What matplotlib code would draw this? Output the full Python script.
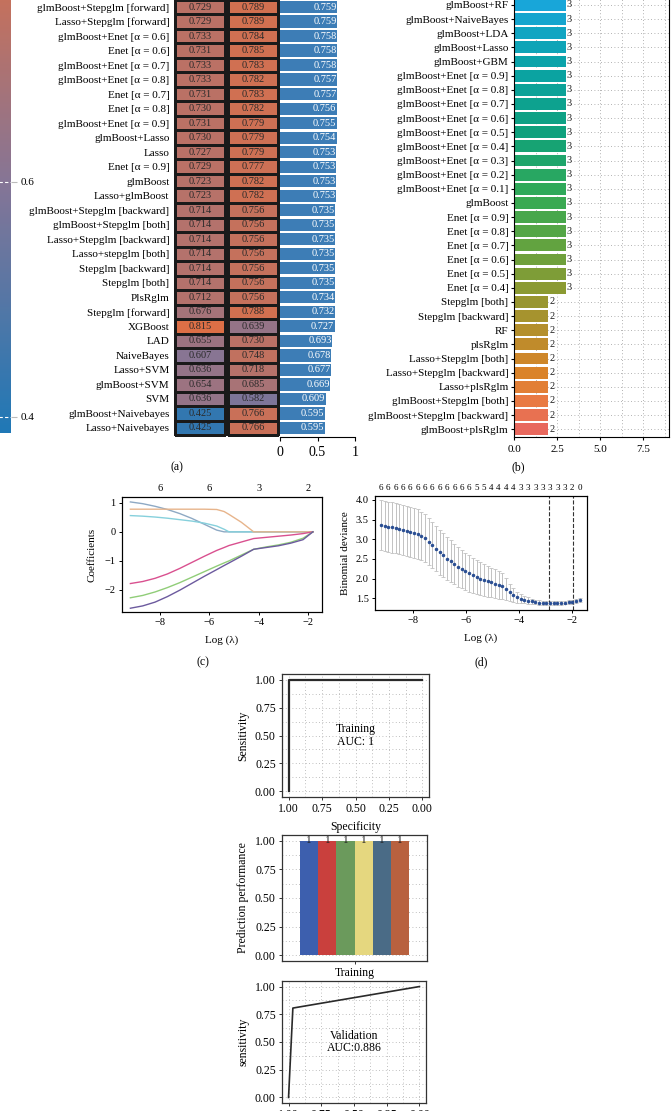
import numpy as np
import matplotlib
matplotlib.use('Agg')
import matplotlib.pyplot as plt
from matplotlib.colors import LinearSegmentedColormap, Normalize
from matplotlib.cm import ScalarMappable
from matplotlib.ticker import MultipleLocator

plt.rcParams['font.family'] = ['Liberation Serif', 'DejaVu Serif']
plt.rcParams['axes.linewidth'] = 0.8

W, H = 671, 1111

# (a) C-index of model combinations: training, validation, mean
a_models = ['glmBoost+Stepglm [forward]', 'Lasso+Stepglm [forward]', 'glmBoost+Enet [α = 0.6]',
            'Enet [α = 0.6]', 'glmBoost+Enet [α = 0.7]', 'glmBoost+Enet [α = 0.8]', 'Enet [α = 0.7]',
            'Enet [α = 0.8]', 'glmBoost+Enet [α = 0.9]', 'glmBoost+Lasso', 'Lasso', 'Enet [α = 0.9]',
            'glmBoost', 'Lasso+glmBoost', 'glmBoost+Stepglm [backward]', 'glmBoost+Stepglm [both]',
            'Lasso+Stepglm [backward]', 'Lasso+stepglm [both]', 'Stepglm [backward]', 'Stepglm [both]',
            'PlsRglm', 'Stepglm [forward]', 'XGBoost', 'LAD', 'NaiveBayes', 'Lasso+SVM', 'glmBoost+SVM',
            'SVM', 'glmBoost+Naivebayes', 'Lasso+Naivebayes']
a_train = [0.729, 0.729, 0.733, 0.731, 0.733, 0.733, 0.731, 0.730, 0.731, 0.730, 0.727, 0.729,
           0.723, 0.723, 0.714, 0.714, 0.714, 0.714, 0.714, 0.714, 0.712, 0.676, 0.815, 0.655,
           0.607, 0.636, 0.654, 0.636, 0.425, 0.425]
a_valid = [0.789, 0.789, 0.784, 0.785, 0.783, 0.782, 0.783, 0.782, 0.779, 0.779, 0.779, 0.777,
           0.782, 0.782, 0.756, 0.756, 0.756, 0.756, 0.756, 0.756, 0.756, 0.788, 0.639, 0.730,
           0.748, 0.718, 0.685, 0.582, 0.766, 0.766]
a_mean = [0.759, 0.759, 0.758, 0.758, 0.758, 0.757, 0.757, 0.756, 0.755, 0.754, 0.753, 0.753,
          0.753, 0.753, 0.735, 0.735, 0.735, 0.735, 0.735, 0.735, 0.734, 0.732, 0.727, 0.693,
          0.678, 0.677, 0.669, 0.609, 0.595, 0.595]

# (b) number of genes kept per model
b_models = ['glmBoost+RF', 'glmBoost+NaiveBayes', 'glmBoost+LDA', 'glmBoost+Lasso', 'glmBoost+GBM',
            'glmBoost+Enet [α = 0.9]', 'glmBoost+Enet [α = 0.8]', 'glmBoost+Enet [α = 0.7]',
            'glmBoost+Enet [α = 0.6]', 'glmBoost+Enet [α = 0.5]', 'glmBoost+Enet [α = 0.4]',
            'glmBoost+Enet [α = 0.3]', 'glmBoost+Enet [α = 0.2]', 'glmBoost+Enet [α = 0.1]',
            'glmBoost', 'Enet [α = 0.9]', 'Enet [α = 0.8]', 'Enet [α = 0.7]', 'Enet [α = 0.6]',
            'Enet [α = 0.5]', 'Enet [α = 0.4]', 'Stepglm [both]', 'Stepglm [backward]', 'RF',
            'plsRglm', 'Lasso+Stepglm [both]', 'Lasso+Stepglm [backward]', 'Lasso+plsRglm',
            'glmBoost+Stepglm [both]', 'glmBoost+Stepglm [backward]', 'glmBoost+plsRglm']
b_counts = [3, 3, 3, 3, 3, 3, 3, 3, 3, 3, 3, 3, 3, 3, 3, 3, 3, 3, 3, 3, 3,
            2, 2, 2, 2, 2, 2, 2, 2, 2, 2]

# (c) lasso coefficient paths
c_loglam = [-9.2, -8.7, -8.2, -7.7, -7.2, -6.7, -6.2, -5.7, -5.4, -5.2, -4.7, -4.2, -3.7, -3.2, -2.7, -2.2, -1.8]
c_coef1 = [1.03, 0.97, 0.88, 0.77, 0.63, 0.46, 0.26, 0.06, 0, 0, 0, 0, 0, 0, 0, 0, 0]
c_coef2 = [0.56, 0.54, 0.51, 0.47, 0.42, 0.37, 0.30, 0.20, 0.09, 0, 0, 0, 0, 0, 0, 0, 0]
c_coef3 = [0.78, 0.78, 0.78, 0.78, 0.78, 0.78, 0.78, 0.77, 0.70, 0.60, 0.33, 0, 0, 0, 0, 0, 0]
c_coef4 = [-1.78, -1.71, -1.60, -1.45, -1.26, -1.05, -0.84, -0.64, -0.54, -0.47, -0.35, -0.23, -0.19, -0.15, -0.11, -0.06, 0]
c_coef5 = [-2.27, -2.19, -2.07, -1.92, -1.75, -1.56, -1.37, -1.18, -1.07, -1.00, -0.80, -0.60, -0.52, -0.45, -0.36, -0.22, 0]
c_coef6 = [-2.63, -2.55, -2.42, -2.23, -2.01, -1.77, -1.53, -1.30, -1.16, -1.07, -0.84, -0.60, -0.54, -0.48, -0.39, -0.27, 0]
c_top_ticks = [-8, -6, -4, -2]
c_top_df = ['6', '6', '3', '2']

# (d) cross-validation binomial deviance
d_mean = [3.36, 3.34, 3.32, 3.30, 3.28, 3.26, 3.24, 3.21, 3.19, 3.16, 3.13, 3.08, 3.02, 2.94,
          2.85, 2.76, 2.67, 2.59, 2.51, 2.44, 2.37, 2.30, 2.24, 2.18, 2.13, 2.08, 2.03, 1.99,
          1.96, 1.93, 1.90, 1.87, 1.84, 1.81, 1.73, 1.65, 1.58, 1.53, 1.49, 1.46, 1.44, 1.42,
          1.40, 1.39, 1.38, 1.38, 1.37, 1.37, 1.38, 1.38, 1.39, 1.40, 1.41, 1.43, 1.45]
d_se = [0.64, 0.64, 0.64, 0.64, 0.63, 0.63, 0.63, 0.63, 0.63, 0.63, 0.63, 0.62, 0.61, 0.60,
        0.59, 0.58, 0.57, 0.56, 0.55, 0.53, 0.52, 0.51, 0.49, 0.48, 0.46, 0.45, 0.43, 0.42,
        0.40, 0.39, 0.38, 0.37, 0.36, 0.33, 0.28, 0.22, 0.17, 0.14, 0.11, 0.09, 0.08, 0.07,
        0.06, 0.06, 0.05, 0.05, 0.05, 0.05, 0.05, 0.05, 0.05, 0.05, 0.05, 0.05, 0.05]
d_loglam = np.linspace(-9.2, -1.7, len(d_mean))
d_df = ['6'] * 13 + ['5'] * 2 + ['4'] * 4 + ['3'] * 7 + ['2', '0']
d_lam_min = -2.87
d_lam_1se = -1.94

# bottom: ROC curves and prediction performance
roc_train_spec = [1, 1, 0]
roc_train_sens = [0, 1, 1]
perf_values = [1, 1, 1, 1, 1, 1]
perf_colors = ['#3d5fae', '#c9403d', '#6b9a5c', '#e5d77f', '#4a6b86', '#b8613f']
roc_valid_spec = [1, 0.967, 0]
roc_valid_sens = [0, 0.806, 1]


def px_axes(fig, x0, y0, x1, y1):
    return fig.add_axes([x0 / W, 1 - y1 / H, (x1 - x0) / W, (y1 - y0) / H])


fig = plt.figure(figsize=(W / 100, H / 100), dpi=100)

# ---------- (a) ----------
heat_cmap = LinearSegmentedColormap.from_list(
    'heat', [(0.0, '#1f78b6'), (0.49, '#857596'), (1.0, '#de6f45')])
heat_norm = Normalize(vmin=0.386, vmax=0.82)
n_a = len(a_models)


def heat_column(ax, values):
    ax.pcolormesh(np.array(values).reshape(-1, 1), cmap=heat_cmap, norm=heat_norm,
                  edgecolors='#1a1a1a', linewidth=0.8, clip_on=False)
    for i, v in enumerate(values):
        ax.text(0.5, i + 0.5, f'{v:.3f}', ha='center', va='center', fontsize=7.5, color='#2a2a2a')
    ax.set_xlim(0, 1)
    ax.set_ylim(len(values), 0)
    ax.set_xticks([])
    for s in ax.spines.values():
        s.set_visible(False)


top_a, bot_a = -0.25, 435.25
ax_h1 = px_axes(fig, 175, top_a, 225, bot_a)
heat_column(ax_h1, a_train)
ax_h1.set_yticks(np.arange(n_a) + 0.5)
ax_h1.set_yticklabels(a_models, fontsize=8)
ax_h1.tick_params(axis='y', length=0, pad=4)

ax_h2 = px_axes(fig, 228, top_a, 278, bot_a)
heat_column(ax_h2, a_valid)
ax_h2.set_yticks([])

ax_m = px_axes(fig, 280, top_a, 355, bot_a)
ax_m.barh(np.arange(n_a) + 0.5, a_mean, height=0.84, color='#3d7db6')
for i, v in enumerate(a_mean):
    ax_m.text(v - 0.005, i + 0.5, f'{v:.3f}', ha='right', va='center', fontsize=7.5, color='white')
ax_m.set_xlim(0, 1)
ax_m.set_ylim(n_a, 0)
ax_m.set_yticks([])
ax_m.set_xticks([0, 0.5, 1])
ax_m.set_xticklabels(['0', '0.5', '1'], fontsize=7.5)
ax_m.tick_params(axis='x', length=3, width=0.8, pad=3)
for s in ['top', 'right', 'left']:
    ax_m.spines[s].set_visible(False)
ax_m.spines['bottom'].set_position(('outward', 1.5))

cax = px_axes(fig, -5, -77, 10.5, 433)
cb = fig.colorbar(ScalarMappable(norm=heat_norm, cmap=heat_cmap), cax=cax)
cb.outline.set_visible(False)
cb.set_ticks([0.4, 0.6])
cb.set_ticklabels(['0.4', '0.6'])
cax.tick_params(length=4, width=0.8, color='#bbbbbb', labelsize=8, pad=3)
for v in [0.4, 0.6]:
    cax.axhline(v, color='white', ls=(0, (3, 2)), lw=0.8)

fig.text(177 / W, 1 - 467 / H, '(a)', ha='center', va='center', fontsize=8.5)

# ---------- (b) ----------
n_b = len(b_models)
bar_cmap = LinearSegmentedColormap.from_list(
    'genes', [(0.0, '#18a6d9'), (0.14, '#0aa3a8'), (0.3, '#0fa17c'), (0.45, '#34aa55'),
              (0.55, '#5aa543'), (0.67, '#8c9a32'), (0.77, '#b58f2c'), (0.87, '#db8329'),
              (0.93, '#e97b42'), (1.0, '#e8685d')])
b_colors = [bar_cmap(i / (n_b - 1)) for i in range(n_b)]

ax_b = px_axes(fig, 514, -10, 669, 437)
ax_b.set_axisbelow(True)
ax_b.barh(np.arange(n_b), b_counts, height=0.84, color=b_colors)
for i, v in enumerate(b_counts):
    ax_b.text(v + 0.05, i, str(v), ha='left', va='center', fontsize=7.5, color='#222222')
ax_b.set_xlim(0, 9)
ax_b.set_ylim(n_b - 0.45, -1.06)
ax_b.set_yticks(np.arange(n_b))
ax_b.set_yticklabels(b_models, fontsize=8)
ax_b.set_xticks([0, 2.5, 5, 7.5])
ax_b.set_xticklabels(['0.0', '2.5', '5.0', '7.5'], fontsize=8)
ax_b.xaxis.set_minor_locator(MultipleLocator(1.25))
ax_b.tick_params(axis='y', length=2, pad=2)
ax_b.tick_params(axis='x', which='major', length=2.5, pad=3)
ax_b.tick_params(axis='x', which='minor', length=0)
ax_b.grid(which='both', ls=(0, (1, 3)), color='#999999', lw=0.6)
fig.text(518 / W, 1 - 467 / H, '(b)', ha='center', va='center', fontsize=8.5)

# ---------- (c) ----------
ax_c = px_axes(fig, 122, 497, 322, 612)
c_colors = ['#8ea9c4', '#86d0dc', '#e7b48b', '#d9508f', '#90cd78', '#6c5a9e']
for coef, col in zip([c_coef1, c_coef2, c_coef3, c_coef4, c_coef5, c_coef6], c_colors):
    ax_c.plot(c_loglam, coef, color=col, lw=1.0)
ax_c.set_xlim(-9.54, -1.43)
ax_c.set_ylim(-2.76, 1.2)
ax_c.set_xticks([-8, -6, -4, -2])
ax_c.set_xticklabels(['−8', '−6', '−4', '−2'])
ax_c.set_yticks([1, 0, -1, -2])
ax_c.set_yticklabels(['1', '0', '−1', '−2'])
ax_c.tick_params(labelsize=7.5, length=2.5, width=0.7, pad=2)
ax_c.set_xlabel('Log (λ)', fontsize=8, labelpad=6)
ax_c.set_ylabel('Coefficients', fontsize=8, labelpad=6)
axc_top = ax_c.twiny()
axc_top.set_xlim(ax_c.get_xlim())
axc_top.set_xticks(c_top_ticks)
axc_top.set_xticklabels(c_top_df, fontsize=7.5)
axc_top.tick_params(length=0, pad=3)
fig.text(203 / W, 1 - 662 / H, '(c)', ha='center', va='center', fontsize=8.5)

# ---------- (d) ----------
ax_d = px_axes(fig, 375, 496, 587, 610)
ax_d.errorbar(d_loglam, d_mean, yerr=d_se, fmt='o', ms=1.5, color='#2b4f93',
              ecolor='#c2c2c2', elinewidth=0.7, capsize=1.3, capthick=0.6)
ax_d.axvline(d_lam_min, color='#333333', ls='--', lw=0.8)
ax_d.axvline(d_lam_1se, color='#333333', ls='--', lw=0.8)
ax_d.set_xlim(-9.42, -1.42)
ax_d.set_ylim(1.2, 4.1)
ax_d.set_xticks([-8, -6, -4, -2])
ax_d.set_xticklabels(['−8', '−6', '−4', '−2'])
ax_d.set_yticks([1.5, 2.0, 2.5, 3.0, 3.5, 4.0])
ax_d.set_yticklabels(['1.5', '2.0', '2.5', '3.0', '3.5', '4.0'])
ax_d.tick_params(labelsize=7.5, length=2.5, width=0.7, pad=2)
ax_d.set_xlabel('Log (λ)', fontsize=8, labelpad=6)
ax_d.set_ylabel('Binomial deviance', fontsize=8, labelpad=4)
axd_top = ax_d.twiny()
axd_top.set_xlim(ax_d.get_xlim())
axd_top.set_xticks(d_loglam[::2])
axd_top.set_xticklabels(d_df, fontsize=6.5)
axd_top.tick_params(length=0, pad=3)
fig.text(481 / W, 1 - 662 / H, '(d)', ha='center', va='center', fontsize=8.5)


# ---------- bottom panels ----------
def gg_box(ax):
    ax.set_axisbelow(True)
    ax.yaxis.set_major_locator(MultipleLocator(0.25))
    ax.yaxis.set_minor_locator(MultipleLocator(0.125))
    ax.set_yticks([0, 0.25, 0.5, 0.75, 1.0])
    ax.set_yticklabels(['0.00', '0.25', '0.50', '0.75', '1.00'])
    ax.tick_params(labelsize=8.5, length=2.5, width=0.7, pad=2, color='#333333')
    ax.tick_params(which='minor', length=0)
    for s in ax.spines.values():
        s.set_color('#333333')
        s.set_linewidth(0.9)


def roc_panel(ax, spec, sens, label, ylab, lw):
    gg_box(ax)
    ax.xaxis.set_minor_locator(MultipleLocator(0.125))
    ax.grid(which='both', ls=(0, (1, 3)), color='#aaaaaa', lw=0.6)
    ax.plot(spec, sens, color='#2a2a2a', lw=lw)
    ax.set_xlim(1.05, -0.05)
    ax.set_ylim(-0.05, 1.05)
    ax.set_xticks([1.0, 0.75, 0.5, 0.25, 0.0])
    ax.set_xticklabels(['1.00', '0.75', '0.50', '0.25', '0.00'])
    ax.text(0.5, 0.5, label, ha='center', va='center', fontsize=8.5, linespacing=1.1)
    ax.set_ylabel(ylab, fontsize=8.5, labelpad=4)


ax_r1 = px_axes(fig, 282, 674, 429, 797)
roc_panel(ax_r1, roc_train_spec, roc_train_sens, 'Training\nAUC: 1', 'Sensitivity', 1.6)
ax_r1.set_xlabel('Specificity', fontsize=8.5, labelpad=4)

ax_p = px_axes(fig, 282, 835, 427, 961)
gg_box(ax_p)
ax_p.grid(axis='y', which='both', ls=(0, (1, 3)), color='#aaaaaa', lw=0.6)
offsets = (np.arange(len(perf_values)) - (len(perf_values) - 1) / 2) * 0.15
ax_p.bar(1 + offsets, perf_values, width=0.15, color=perf_colors)
for xo, v in zip(offsets, perf_values):
    ax_p.text(1 + xo, v, str(v), ha='center', va='center', fontsize=8, color='#222222')
ax_p.set_xlim(0.4, 1.6)
ax_p.set_ylim(-0.05, 1.05)
ax_p.set_xticks([1])
ax_p.set_xticklabels(['Training'])
ax_p.set_ylabel('Prediction performance', fontsize=8.5, labelpad=4)

ax_r2 = px_axes(fig, 282, 981, 426, 1103)
roc_panel(ax_r2, roc_valid_spec, roc_valid_sens, 'Validation\nAUC:0.886', 'sensitivity', 1.2)

fig.savefig('out.png', dpi=100)
